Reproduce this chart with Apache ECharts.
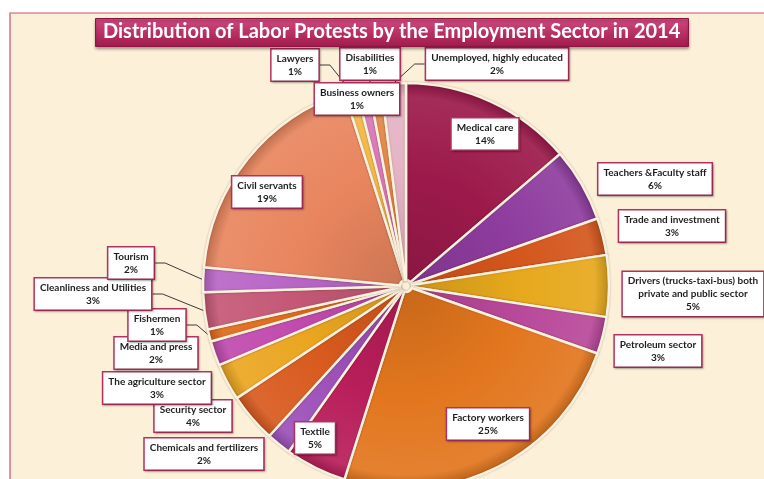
<!DOCTYPE html>
<html><head><meta charset="utf-8">
<script src="https://cdn.jsdelivr.net/npm/echarts@6/dist/echarts.min.js"></script>
<style>html,body{margin:0;padding:0;background:#fff}#c{width:764px;height:479px}</style>
</head><body><div id="c"></div>
<script>
// ---- data (clockwise from 12 o'clock) ----
const categories = [
  "Medical care",
  "Teachers &Faculty staff",
  "Trade and investment",
  "Drivers (trucks-taxi-bus) both\nprivate and public sector",
  "Petroleum sector",
  "Factory workers",
  "Textile",
  "Chemicals and fertilizers",
  "Security sector",
  "The agriculture sector",
  "Media and press",
  "Fishermen",
  "Cleanliness and Utilities",
  "Tourism",
  "Civil servants",
  "Lawyers",
  "Business owners",
  "Disabilities",
  "Unemployed, highly educated"
];
const percents = [14, 6, 3, 5, 3, 25, 5, 2, 4, 3, 2, 1, 3, 2, 19, 1, 1, 1, 2];
const titleText = "Distribution of Labor Protests by the Employment Sector in 2014";

// ---- styles ----
const palette = [
  "#9C1A4B", "#8E3C9E", "#D4561C", "#E6A81C", "#B8489A", "#E2761E",
  "#B81E5A", "#9C50B8", "#D85A1E", "#EAA620", "#C04AAE", "#DE6A1A",
  "#C45876", "#B866C6", "#E8855E", "#F2B848", "#D878B8", "#E08848", "#E4B4C4"
];
const withLine = ["Lawyers", "Disabilities", "Unemployed, highly educated",
  "Tourism", "Cleanliness and Utilities", "Fishermen"];
const pieCenter = [406, 286];
const pieRadius = 203;
// label box centres (annotation placement)
const labelAnchors = {
  "Medical care": [485, 134],
  "Teachers &Faculty staff": [655, 179],
  "Trade and investment": [672, 226],
  "Drivers (trucks-taxi-bus) both\nprivate and public sector": [693, 294],
  "Petroleum sector": [658, 351],
  "Factory workers": [488, 424],
  "Textile": [315, 438],
  "Chemicals and fertilizers": [204, 454],
  "Security sector": [193, 416],
  "The agriculture sector": [157, 388],
  "Media and press": [156, 353],
  "Fishermen": [157, 325],
  "Cleanliness and Utilities": [93, 294],
  "Tourism": [131, 263],
  "Civil servants": [267, 192],
  "Lawyers": [295, 65],
  "Business owners": [357, 99],
  "Disabilities": [370, 64],
  "Unemployed, highly educated": [497, 64]
};

function shade(hex, f) {
  const n = parseInt(hex.slice(1), 16);
  let r = n >> 16, g = (n >> 8) & 255, b = n & 255;
  const m = c => Math.max(0, Math.min(255, Math.round(f < 0 ? c * (1 + f) : c + (255 - c) * f)));
  return "rgb(" + m(r) + "," + m(g) + "," + m(b) + ")";
}

const data = categories.map((name, i) => ({
  name: name,
  value: percents[i],
  itemStyle: {
    color: {
      type: "radial", global: true,
      x: pieCenter[0], y: pieCenter[1], r: pieRadius,
      colorStops: [
        { offset: 0, color: shade(palette[i], -0.12) },
        { offset: 0.55, color: palette[i] },
        { offset: 0.93, color: shade(palette[i], 0.08) },
        { offset: 1, color: shade(palette[i], -0.18) }
      ]
    }
  },
  labelLine: { show: withLine.indexOf(name) >= 0 }
}));

const chart = echarts.init(document.getElementById("c"), null, { renderer: "canvas" });
chart.setOption({
  backgroundColor: "#ffffff",
  animation: false,
  graphic: [{
    type: "rect", z: -10, silent: true,
    shape: { x: 10, y: 13, width: 760, height: 470 },
    style: { fill: "#FDF0D8", stroke: "#C8506E", lineWidth: 1.2 }
  }],
  title: {
    text: titleText,
    left: 95,
    top: 18,
    padding: [4, 8, 5, 8],
    backgroundColor: {
      type: "linear", x: 0, y: 0, x2: 0, y2: 1,
      colorStops: [{ offset: 0, color: "#D24A7E" }, { offset: 1, color: "#A01A4E" }]
    },
    borderColor: "#8E1442",
    borderWidth: 1,
    shadowColor: "rgba(0,0,0,0.35)",
    shadowBlur: 3,
    shadowOffsetY: 2,
    textStyle: {
      fontFamily: "Lato", fontWeight: "bold", fontSize: 20, color: "#ffffff"
    }
  },
  series: [{
    type: "pie",
    center: pieCenter,
    radius: [6, pieRadius],
    startAngle: 90,
    clockwise: true,
    avoidLabelOverlap: false,
    itemStyle: {
      borderColor: "#FBF1DF",
      borderWidth: 2.5,
      shadowColor: "rgba(80,40,20,0.3)",
      shadowBlur: 2
    },
    label: {
      show: true,
      position: "outside",
      formatter: "{b}\n{c}%",
      fontFamily: "Lato",
      fontWeight: "bold",
      fontSize: 10,
      lineHeight: 13,
      color: "#1e1e1e",
      align: "center",
      backgroundColor: "#ffffff",
      borderColor: "#B5325F",
      borderWidth: 1.5,
      padding: [3, 5, 2, 5],
      shadowColor: "rgba(0,0,0,0.25)",
      shadowBlur: 2,
      shadowOffsetX: 1,
      shadowOffsetY: 1
    },
    labelLine: {
      show: true,
      length: 10,
      length2: 10,
      lineStyle: { color: "#3a3a3a", width: 1 }
    },
    labelLayout: function (params) {
      const p = labelAnchors[categories[params.dataIndex]];
      return { x: p[0], y: p[1], align: "center", verticalAlign: "middle" };
    },
    emphasis: { disabled: true },
    data: data
  }]
});
</script>
</body></html>
